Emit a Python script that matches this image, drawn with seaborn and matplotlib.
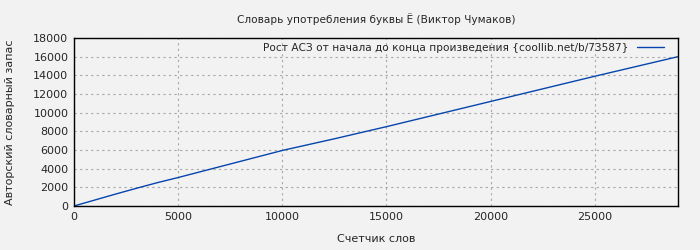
import matplotlib
matplotlib.use("Agg")
import matplotlib.pyplot as plt
import seaborn as sns
import pandas as pd

words = [0, 1000, 2000, 3000, 4000, 5000, 7500, 10000, 12500, 15000, 17500, 20000, 22500, 25000, 27000, 29000]
vocab = [0, 640, 1280, 1900, 2500, 3050, 4500, 5950, 7200, 8500, 9850, 11200, 12550, 13900, 14950, 16000]

title = "Словарь употребления буквы Ё (Виктор Чумаков)"
series_label = "Рост АСЗ от начала до конца произведения {coollib.net/b/73587}"
xlabel = "Счетчик слов"
ylabel = "Авторский словарный запас"

sns.set_style("whitegrid")
plt.rcParams['font.family'] = ['DejaVu Sans']
bg = "#f2f2f2"

fig = plt.figure(figsize=(7, 2.5), dpi=100, facecolor=bg)
ax = fig.add_axes([0.1057, 0.176, 0.8629, 0.672])
ax.set_facecolor(bg)

df = pd.DataFrame({"x": words, "y": vocab})
sns.lineplot(data=df, x="x", y="y", ax=ax, color="#0645ad", linewidth=1.0, label=series_label)

ax.set_xlim(0, 29000)
ax.set_ylim(0, 18000)
ax.set_xticks([0, 5000, 10000, 15000, 20000, 25000])
ax.set_yticks(range(0, 18001, 2000))
ax.grid(True, color="#a8a8a8", linestyle=(0, (2, 3)), linewidth=0.8)
for s in ax.spines.values():
    s.set_color("black")
    s.set_linewidth(1.0)
ax.tick_params(axis="both", direction="in", length=4, width=0.8, color="black", labelsize=8, pad=4)
ax.set_title(title, fontsize=7.6, pad=11)
ax.set_xlabel(xlabel, fontsize=8, labelpad=9)
ax.set_ylabel(ylabel, fontsize=8, labelpad=13)

leg = ax.legend(loc="upper right", bbox_to_anchor=(0.995, 1.036), frameon=False, fontsize=7.6,
                markerfirst=False, handlelength=2.6, borderaxespad=0.6, handletextpad=0.8)

fig.savefig("out.png", dpi=100, facecolor=bg)
